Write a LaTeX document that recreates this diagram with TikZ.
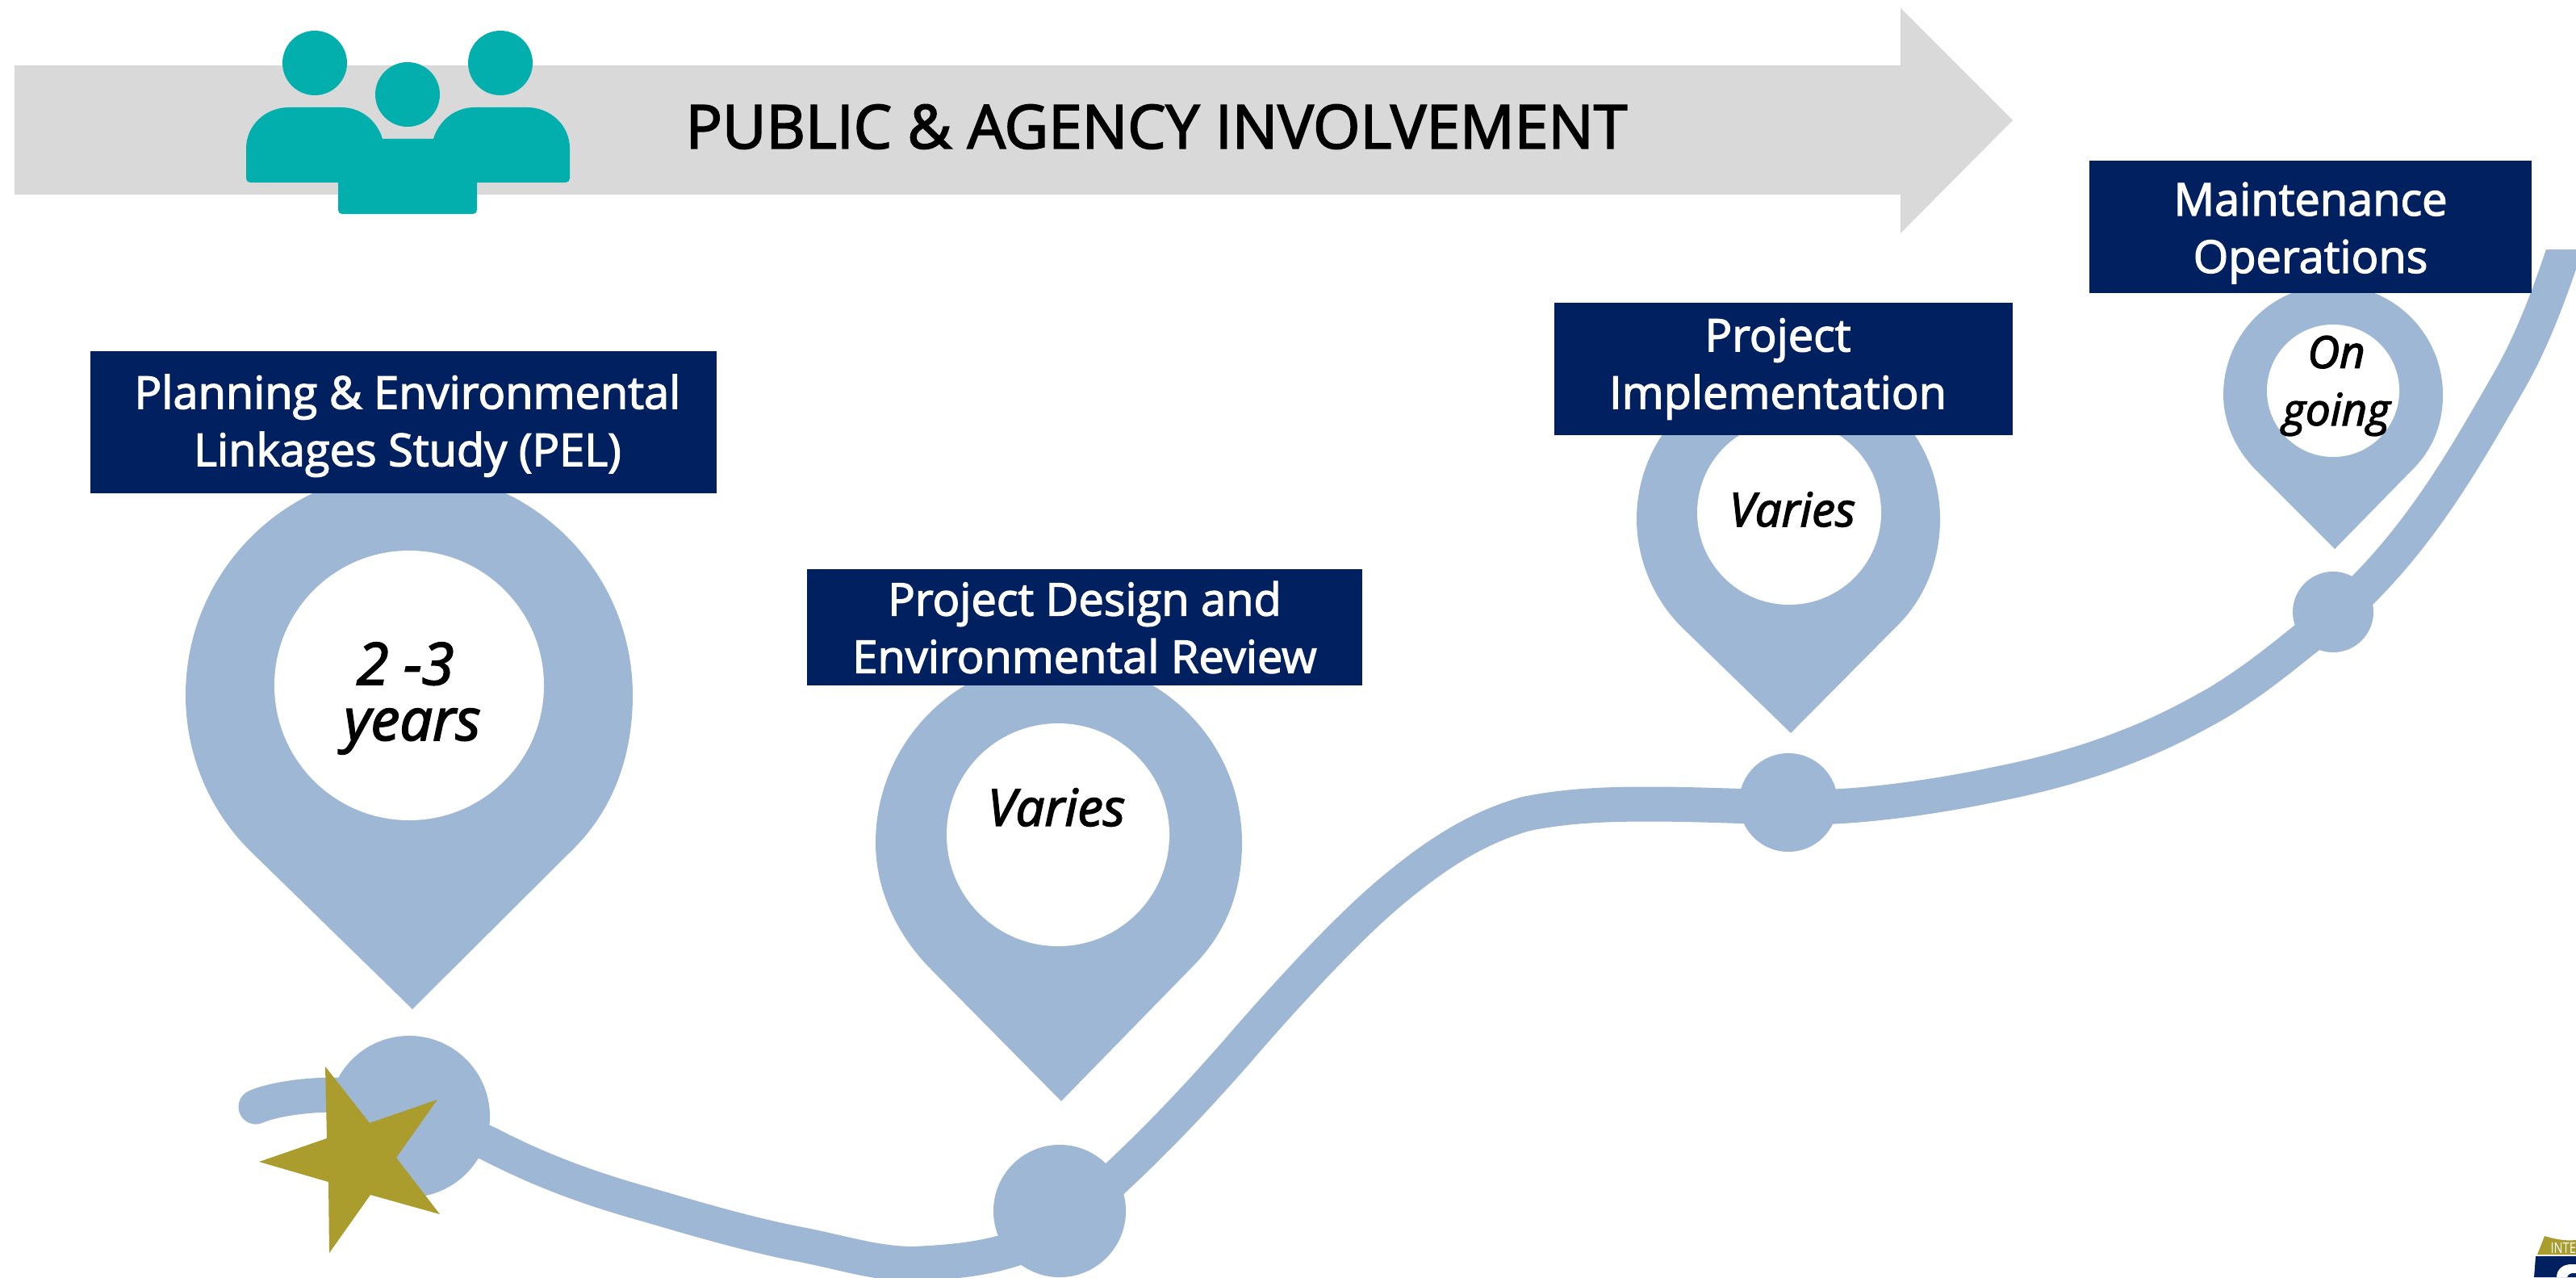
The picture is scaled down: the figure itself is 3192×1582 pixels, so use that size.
\documentclass[tikz,border=0pt]{standalone}
\usepackage{fontspec}
\setmainfont{Open Sans}
\newfontfamily\bannerfont[FakeBold=2.4]{Open Sans}
\newfontfamily\titlefont[FakeBold=2.5]{Open Sans}
\newfontfamily\durafont[FakeBold=2.5]{Open Sans Italic}
\definecolor{bargray}{HTML}{D9D9D9}
\definecolor{peopleteal}{HTML}{03AFAC}
\definecolor{bannernavy}{HTML}{002060}
\definecolor{pinblue}{HTML}{9DB7D5}
\definecolor{stargold}{HTML}{AA9C2D}
\tikzset{
  banner/.style={fill=bannernavy,text=white,align=center,inner sep=0pt,font=\bannerfont\fontsize{15.9}{20.2}\selectfont},
  duration/.style={align=center,inner sep=0pt},
  stop/.style={circle,fill=pinblue,inner sep=0pt},
  road/.style={draw=pinblue,line width=0.43cm,line cap=round}
}
% pin: center x, center y, radius, hole x, hole y, hole radius, tip, left and right shoulder
\newcommand{\mappin}[9]{
  \fill[pinblue] #7 -- #8 .. controls +({-0.184*#3},{-0.184*#3}) and ({#1-#3},{#2+0.26*#3}) .. ({#1-#3},#2)
    arc[start angle=180,end angle=360,radius=#3]
    .. controls ({#1+#3},{#2+0.26*#3}) and +({0.184*#3},{-0.184*#3}) .. #9 -- cycle;
  \fill[white] (#4,#5) circle (#6);
}
\begin{document}
\begin{tikzpicture}[x=0.01cm,y=-0.01cm]
  \useasboundingbox (0,0) rectangle (3192,1582);
  % top arrow
  \fill[bargray] (18,81) -- (2355,81) -- (2355,10) -- (2494,149) -- (2355,289) -- (2355,241) -- (18,241) -- cycle;
  \node[inner sep=0pt,font=\titlefont\fontsize{21.3}{24}\selectfont] (involve) at (1433,157) {PUBLIC \& AGENCY INVOLVEMENT};
  % people
  \fill[peopleteal] (390,78) circle (40);
  \fill[peopleteal] (505,117) circle (40);
  \fill[peopleteal] (620,78) circle (40);
  \fill[peopleteal] (305,184) .. controls (305,155) and (329,133) .. (358,133) -- (423,133)
    .. controls (447,133) and (467,149) .. (474,172) -- (537,172)
    .. controls (544,149) and (564,133) .. (588,133) -- (653,133)
    .. controls (682,133) and (706,155) .. (706,184) -- (706,221)
    .. controls (706,224) and (704,226) .. (701,226) -- (591,226) -- (591,260)
    .. controls (591,263) and (589,265) .. (586,265) -- (424,265)
    .. controls (421,265) and (419,263) .. (419,260) -- (419,226) -- (310,226)
    .. controls (307,226) and (305,224) .. (305,221) -- cycle;
  % stops and road
  \node[stop,minimum size=2cm] (stopa) at (507,1383) {};
  \node[stop,minimum size=1.64cm] (stopb) at (1313,1500) {};
  \node[stop,minimum size=1.22cm] (stopc) at (2216,994) {};
  \node[stop,minimum size=1cm] (stopd) at (2891,758) {};
  \coordinate (roadstart) at (317,1371);
  \coordinate (roada) at (507,1372);
  \coordinate (roadb) at (1313,1520);
  \coordinate (roadc) at (2216,1000);
  \coordinate (roadd) at (2891,765);
  \coordinate (roadend) at (3190,270);
  \begin{scope}
    \clip (0,309) rectangle (3192,1582);
    \draw[road] (roadstart) .. controls (345,1358) and (440,1345) .. (roada)
      .. controls (540,1385) and (580,1405) .. (606,1417)
      .. controls (670,1450) and (730,1472) .. (798,1491)
      .. controls (860,1509) and (930,1530) .. (995,1542)
      .. controls (1050,1553) and (1095,1568) .. (1142,1565)
      .. controls (1200,1562) and (1260,1555) .. (roadb)
      .. controls (1395,1452) and (1465,1380) .. (1535,1300)
      .. controls (1565,1265) and (1595,1232) .. (1625,1200)
      .. controls (1660,1163) and (1695,1128) .. (1729,1100)
      .. controls (1780,1058) and (1830,1025) .. (1891,1008)
      .. controls (1940,998) and (1990,996) .. (2044,996)
      .. controls (2100,996) and (2160,999) .. (roadc)
      .. controls (2300,1002) and (2400,987) .. (2480,970)
      .. controls (2530,960) and (2585,945) .. (2633,926)
      .. controls (2675,910) and (2710,892) .. (2747,871)
      .. controls (2782,850) and (2815,825) .. (2847,799)
      .. controls (2862,787) and (2877,776) .. (roadd)
      .. controls (2990,680) and (3050,575) .. (3105,479)
      .. controls (3140,420) and (3165,350) .. (roadend);
  \end{scope}
  % star
  \fill[stargold] (403,1321) -- (458,1391) -- (542,1362) -- (491,1434) -- (545,1504) -- (459,1480) -- (408,1552) -- (407,1464) -- (321,1439) -- (405,1410) -- cycle;
  % pins
  \mappin{507}{861}{277}{507}{849}{167}{(511,1250)}{(309,1053)}{(711,1051)}
  \mappin{1312}{1044}{227}{1311}{1034}{138}{(1315,1364)}{(1154,1201)}{(1478,1197)}
  \mappin{2216}{643}{188}{2217}{635}{114}{(2219,908)}{(2083,776)}{(2352,774)}
  \mappin{2891}{489}{136}{2891}{484}{82}{(2893,680)}{(2796,583)}{(2990,581)}
  % banners
  \node[banner,minimum width=7.76cm,minimum height=1.76cm] (pel) at (500,523) {\hspace*{2.8pt}\rule{0pt}{14.5pt}Planning \& Environmental\\\hspace*{2.8pt}Linkages Study (PEL)};
  \node[banner,minimum width=6.88cm,minimum height=1.43cm] (design) at (1344,777) {Project Design and\\Environmental Review};
  \node[banner,minimum width=5.68cm,minimum height=1.64cm] (impl) at (2210,457) {Project\hspace*{4pt}\\Implementation\hspace*{4pt}};
  \node[banner,minimum width=5.47cm,minimum height=1.64cm] (maint) at (2863,281) {\rule{0pt}{16pt}Maintenance\\Operations};
  % durations
  \node[duration,font=\durafont\fontsize{20.5}{19.6}\selectfont] (durpel) at (511,865) {2 -3\kern5pt\\years};
  \node[duration,font=\durafont\fontsize{18}{20}\selectfont] (durdesign) at (1309,1000) {Varies};
  \node[duration,font=\durafont\fontsize{16.5}{19}\selectfont] (durimpl) at (2221,631) {Varies};
  \node[duration,font=\durafont\fontsize{15.6}{20.2}\selectfont] (durmaint) at (2895,478) {On\\going};
  % shield in the corner
  \fill[stargold] (3153,1531) .. controls (3170,1536) and (3180,1537) .. (3192,1536) -- (3192,1554) -- (3144,1554) -- cycle;
  \fill[bannernavy] (3142,1556) -- (3192,1556) -- (3192,1582) -- (3140,1582) -- cycle;
  \node[inner sep=0pt,anchor=west,text=white,xscale=0.8,font=\fontsize{5.2}{6}\selectfont] (shieldtop) at (3160,1546) {INTE};
  \fill[white] (3168,1582) .. controls (3168,1572) and (3176,1566) .. (3186,1566) -- (3192,1566) -- (3192,1577) .. controls (3186,1576) and (3182,1578) .. (3181,1582) -- cycle;
\end{tikzpicture}
\end{document}
